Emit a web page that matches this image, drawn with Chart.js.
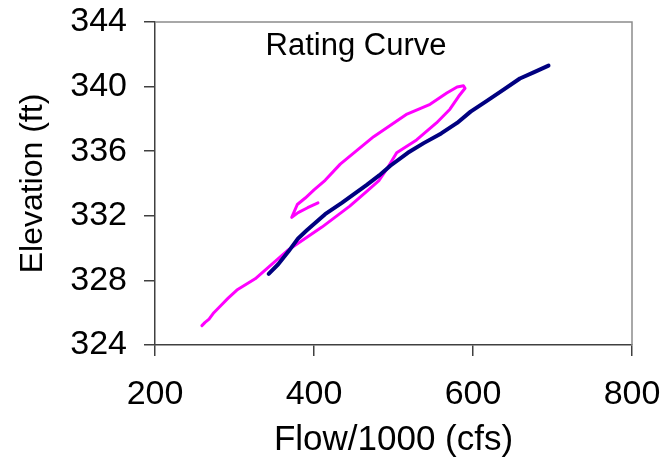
<!DOCTYPE html>
<html>
<head>
<meta charset="utf-8">
<script src="https://cdn.jsdelivr.net/npm/chart.js@4.4.1/dist/chart.umd.min.js"></script>
<style>
  html, body { margin: 0; padding: 0; background: #fff; }
</style>
</head>
<body>
<canvas id="ratingChart" width="667" height="461" aria-label="rating curve" role="img"></canvas>
<script>
// flow in 1000 cfs, elevation in ft
const blueFlow = [343, 355, 368, 380, 391, 414, 435, 452, 466, 482, 496, 518, 538, 560, 580, 597, 617, 638, 659, 677, 695];
const blueElev = [328.4, 329.0, 329.8, 330.6, 331.1, 332.1, 332.8, 333.4, 333.9, 334.5, 335.1, 335.9, 336.5, 337.1, 337.75, 338.45, 339.1, 339.8, 340.5, 340.9, 341.3];

const pinkFlow = [259, 263, 268, 274, 282, 292, 303, 326, 368, 410, 445, 466, 482, 493, 504, 529, 554, 571, 582, 590, 588, 580, 567, 546, 517, 475, 433, 414, 400, 389, 379, 372, 380, 392, 405];
const pinkElev = [325.2, 325.4, 325.6, 326.0, 326.4, 326.9, 327.4, 328.1, 329.9, 331.3, 332.6, 333.5, 334.2, 335.0, 335.9, 336.7, 337.75, 338.6, 339.4, 339.9, 340.05, 339.98, 339.6, 338.9, 338.3, 336.9, 335.2, 334.2, 333.6, 333.1, 332.7, 331.9, 332.2, 332.5, 332.8];

const xTicks = [200, 400, 600, 800];
const yTicks = [324, 328, 332, 336, 340, 344];

const chartTitle = "Rating Curve";
const xTitle = "Flow/1000 (cfs)";
const yTitle = "Elevation (ft)";

function toPoints(xs, ys) {
  return xs.map((x, i) => ({ x: x, y: ys[i] }));
}

const FONT = "'Liberation Sans', Arial, sans-serif";

// top + right frame of the plot, and the title inside the plot
const frame = {
  id: "frame",
  afterDraw(chart) {
    const a = chart.chartArea;
    const ctx = chart.ctx;
    ctx.save();
    ctx.strokeStyle = "#8c8c8c";
    ctx.lineWidth = 1.5;
    ctx.beginPath();
    ctx.moveTo(a.left, a.top);
    ctx.lineTo(a.right, a.top);
    ctx.lineTo(a.right, a.bottom);
    ctx.stroke();
    ctx.fillStyle = "#000";
    ctx.font = "31px " + FONT;
    ctx.textAlign = "center";
    ctx.textBaseline = "middle";
    ctx.fillText(chartTitle, 356, 46);
    ctx.restore();
  },
};

const ctx = document.getElementById("ratingChart").getContext("2d");
new Chart(ctx, {
  type: "scatter",
  data: {
    datasets: [
      {
        label: "blue",
        data: toPoints(blueFlow, blueElev),
        showLine: true,
        borderColor: "#000080",
        borderWidth: 4,
        borderJoinStyle: "round",
        borderCapStyle: "round",
        pointRadius: 0,
        tension: 0,
      },
      {
        label: "pink",
        data: toPoints(pinkFlow, pinkElev),
        showLine: true,
        borderColor: "#ff00ff",
        borderWidth: 3,
        borderJoinStyle: "round",
        borderCapStyle: "round",
        pointRadius: 0,
        tension: 0,
      },
    ],
  },
  options: {
    responsive: false,
    animation: false,
    layout: { padding: { top: 22, right: 35, left: 0, bottom: 0 } },
    plugins: {
      legend: { display: false },
      tooltip: { enabled: false },
    },
    scales: {
      x: {
        type: "linear",
        min: 200,
        max: 800,
        afterBuildTicks(s) { s.ticks = xTicks.map((v) => ({ value: v })); },
        afterFit(s) { s.height = 116; s.paddingLeft = 0; s.paddingRight = 0; },
        ticks: { font: { family: FONT, size: 34 }, color: "#000", padding: 18, maxRotation: 0 },
        grid: { drawOnChartArea: false, tickLength: 11, color: "#404040", lineWidth: 1.5 },
        border: { color: "#404040", width: 1.5 },
        title: { display: true, text: xTitle, font: { family: FONT, size: 35 }, color: "#000", padding: { top: 0, bottom: 0 } },
      },
      y: {
        type: "linear",
        min: 324,
        max: 344,
        afterBuildTicks(s) { s.ticks = yTicks.map((v) => ({ value: v })); },
        afterFit(s) { s.width = 155; s.paddingTop = 0; s.paddingBottom = 0; },
        ticks: { font: { family: FONT, size: 34 }, color: "#000", padding: 17 },
        grid: { drawOnChartArea: false, tickLength: 11, color: "#404040", lineWidth: 1.5 },
        border: { color: "#404040", width: 1.5 },
        title: { display: true, text: yTitle, font: { family: FONT, size: 32 }, color: "#000", padding: { top: 14, bottom: 0 } },
      },
    },
  },
  plugins: [frame],
});
</script>
</body>
</html>
